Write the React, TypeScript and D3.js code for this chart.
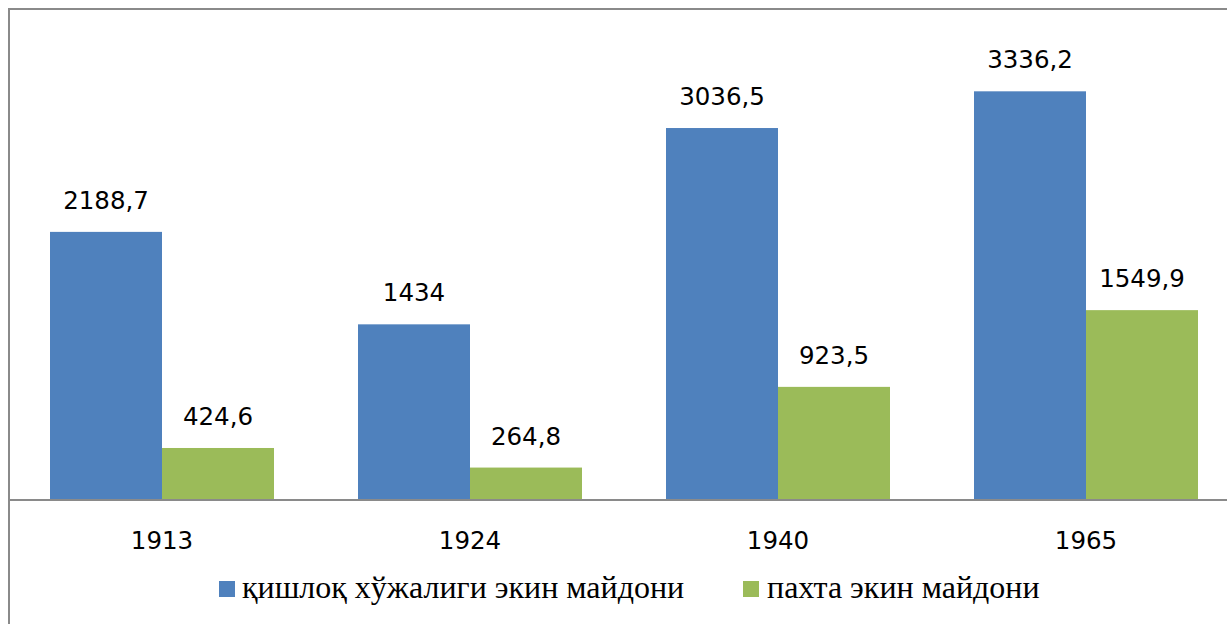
import React from "react";
import * as d3 from "d3";

const categories = ["1913", "1924", "1940", "1965"];
const seriesNames = ["қишлоқ хўжалиги экин майдони", "пахта экин майдони"];
const agriValues = [2188.7, 1434, 3036.5, 3336.2];
const cottonValues = [424.6, 264.8, 923.5, 1549.9];
const valueLabelsAgri = ["2188,7", "1434", "3036,5", "3336,2"];
const valueLabelsCotton = ["424,6", "264,8", "923,5", "1549,9"];
const colors = ["#4F81BD", "#9BBB59"];

const W = 1227;
const H = 624;

export default function App() {
  const x = d3
    .scaleBand<string>()
    .domain(categories)
    .range([8, 1240])
    .paddingInner(84 / 308)
    .paddingOuter(42 / 308);
  const xs = d3
    .scaleBand<number>()
    .domain([0, 1])
    .range([0, x.bandwidth()]);
  const y = d3.scaleLinear().domain([0, 4000]).range([500, 10]);

  const series = [
    { values: agriValues, labels: valueLabelsAgri },
    { values: cottonValues, labels: valueLabelsCotton },
  ];

  const labelFont = "'DejaVu Sans', Verdana, sans-serif";
  const legendFont = "'Liberation Serif', 'DejaVu Serif', serif";

  const legendItems = [
    { sq: 219, tx: 242 },
    { sq: 743, tx: 767 },
  ];

  return (
    <svg
      width={W}
      height={H}
      style={{ position: "absolute", left: 0, top: 0, background: "#fff" }}
    >
      <rect x={0} y={0} width={W} height={H} fill="#fff" />
      <rect
        x={9}
        y={9}
        width={1300}
        height={700}
        fill="none"
        stroke="#8a8a8a"
        strokeWidth={2}
      />
      {series.map((s, si) =>
        categories.map((c, ci) => {
          const v = s.values[ci];
          const bx = (x(c) as number) + (xs(si) as number);
          return (
            <rect
              key={`b-${si}-${ci}`}
              x={bx}
              y={y(v)}
              width={xs.bandwidth()}
              height={y(0) - y(v)}
              fill={colors[si]}
            />
          );
        })
      )}
      <line x1={9} x2={W} y1={y(0)} y2={y(0)} stroke="#8a8a8a" strokeWidth={2} />
      {series.map((s, si) =>
        categories.map((c, ci) => {
          const v = s.values[ci];
          const cx = (x(c) as number) + (xs(si) as number) + xs.bandwidth() / 2;
          return (
            <text
              key={`l-${si}-${ci}`}
              x={cx}
              y={y(v) - 23}
              textAnchor="middle"
              style={{ fontFamily: labelFont, fontSize: "24.5px" }}
              fill="#000"
            >
              {s.labels[ci]}
            </text>
          );
        })
      )}
      {categories.map((c) => (
        <text
          key={`c-${c}`}
          x={(x(c) as number) + x.bandwidth() / 2}
          y={549}
          textAnchor="middle"
          style={{ fontFamily: labelFont, fontSize: "24.5px" }}
          fill="#000"
        >
          {c}
        </text>
      ))}
      {seriesNames.map((n, i) => (
        <g key={`lg-${i}`}>
          <rect x={legendItems[i].sq} y={581} width={16} height={16} fill={colors[i]} />
          <text
            x={legendItems[i].tx}
            y={598}
            style={{ fontFamily: legendFont, fontSize: "32px" }}
            fill="#000"
          >
            {n}
          </text>
        </g>
      ))}
    </svg>
  );
}
